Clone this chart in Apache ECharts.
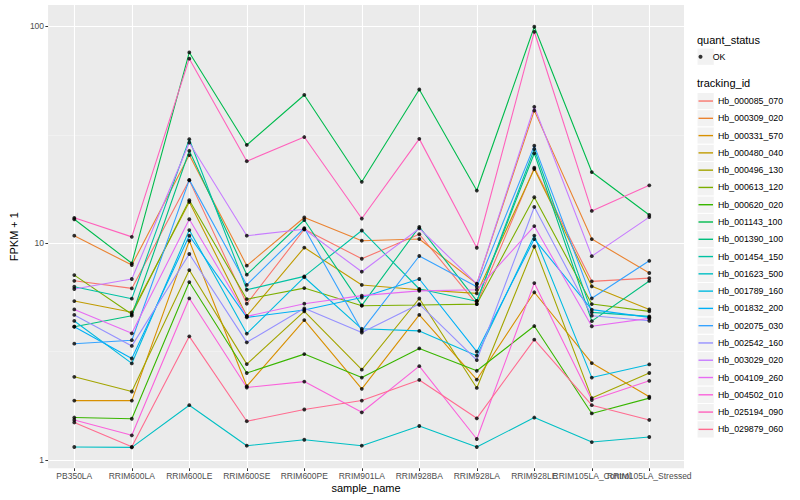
<!DOCTYPE html>
<html><head><meta charset="utf-8">
<script src="https://cdn.jsdelivr.net/npm/echarts@6/dist/echarts.min.js"></script>
<style>html,body{margin:0;padding:0;background:#fff}#c{width:800px;height:500px}</style>
</head><body><div id="c"></div>
<script>
const categories = ['PB350LA','RRIM600LA','RRIM600LE','RRIM600SE','RRIM600PE','RRIM901LA','RRIM928BA','RRIM928LA','RRIM928LE','RRIM105LA_Control','RRIM105LA_Stressed'];
const trackingIds = ['Hb_000085_070','Hb_000309_020','Hb_000331_570','Hb_000480_040','Hb_000496_130','Hb_000613_120','Hb_000620_020','Hb_001143_100','Hb_001390_100','Hb_001454_150','Hb_001623_500','Hb_001789_160','Hb_001832_200','Hb_002075_030','Hb_002542_160','Hb_003029_020','Hb_004109_260','Hb_004502_010','Hb_025194_090','Hb_029879_060'];
const colors = ['#F8766D','#EA8331','#D89000','#C09B00','#A3A500','#7CAE00','#39B600','#00BB4E','#00BF7D','#00C1A3','#00BFC4','#00BAE0','#00B0F6','#35A2FF','#9590FF','#C77CFF','#E76BF3','#FA62DB','#FF62BC','#FF6C90'];
const quantStatus = ['OK'];
const yTickValues = [1, 10, 100];

const Hb_000085_070 = [6.71, 6.19, 19.5, 5.26, 11.6, 8.48, 11.0, 5.24, 22.3, 6.67, 6.9];
const Hb_000309_020 = [10.83, 7.93, 25.5, 7.88, 13.15, 10.27, 10.46, 6.5, 40.9, 10.45, 7.29];
const Hb_000331_570 = [1.88, 1.88, 10.27, 2.19, 4.42, 2.13, 4.67, 2.35, 5.94, 2.80, 1.96];
const Hb_000480_040 = [5.41, 4.80, 15.5, 4.62, 9.55, 6.42, 6.1, 5.87, 22.0, 6.33, 4.95];
const Hb_000496_130 = [2.42, 2.07, 7.52, 2.77, 4.85, 2.61, 5.56, 2.15, 9.66, 1.93, 2.52];
const Hb_000613_120 = [7.13, 4.70, 15.8, 5.52, 6.21, 5.15, 5.19, 5.24, 16.3, 5.24, 4.85];
const Hb_000620_020 = [1.57, 1.55, 6.62, 2.52, 3.08, 2.40, 3.27, 2.58, 4.15, 1.64, 1.93];
const Hb_001143_100 = [12.9, 8.08, 75.9, 28.4, 48.3, 19.2, 51.2, 17.5, 99.7, 21.3, 13.5];
const Hb_001390_100 = [4.12, 4.63, 26.7, 7.16, 12.8, 5.17, 11.9, 5.42, 26.0, 4.37, 6.7];
const Hb_001454_150 = [6.30, 5.55, 30.2, 6.10, 7.03, 11.45, 6.15, 5.4, 27.2, 4.8, 4.6];
const Hb_001623_500 = [1.148, 1.144, 1.79, 1.164, 1.24, 1.164, 1.435, 1.148, 1.57, 1.21, 1.277];
const Hb_001789_160 = [4.38, 2.79, 11.5, 3.83, 6.97, 4.03, 3.94, 3.03, 10.85, 2.40, 2.76];
const Hb_001832_200 = [4.12, 2.94, 10.83, 4.55, 4.92, 5.62, 6.84, 3.16, 10.45, 4.94, 4.55];
const Hb_002075_030 = [3.44, 3.57, 19.6, 6.42, 11.75, 3.95, 8.73, 6.3, 28.2, 5.57, 8.30];
const Hb_002542_160 = [4.67, 3.36, 8.92, 3.49, 5.01, 3.87, 5.24, 2.89, 14.7, 4.63, 4.39];
const Hb_003029_020 = [6.15, 6.84, 29.1, 10.83, 11.6, 7.39, 11.7, 6.5, 42.6, 8.72, 13.2];
const Hb_004109_260 = [4.95, 3.84, 12.9, 4.60, 5.26, 5.73, 6.03, 6.1, 12.0, 4.14, 4.5];
const Hb_004502_010 = [1.53, 1.30, 5.57, 2.16, 2.30, 1.66, 2.71, 1.25, 6.55, 1.89, 2.32];
const Hb_025194_090 = [13.1, 10.7, 71.0, 23.9, 30.9, 13.0, 30.3, 9.53, 94.5, 14.1, 18.5];
const Hb_029879_060 = [1.49, 1.15, 3.72, 1.51, 1.71, 1.88, 2.34, 1.557, 3.59, 1.79, 1.53];

const seriesValues = [Hb_000085_070, Hb_000309_020, Hb_000331_570, Hb_000480_040, Hb_000496_130, Hb_000613_120, Hb_000620_020, Hb_001143_100, Hb_001390_100, Hb_001454_150, Hb_001623_500, Hb_001789_160, Hb_001832_200, Hb_002075_030, Hb_002542_160, Hb_003029_020, Hb_004109_260, Hb_004502_010, Hb_025194_090, Hb_029879_060];

const FONT = "'Liberation Sans', Arial, Helvetica, sans-serif";
const yMin = 0.9157, yMax = 125.6;
const panel = {left: 40, right: 684, top: 5, bottom: 468.3};
const catFirst = 74.3, catLast = 649.3;
const rowH = 17.28, keyX = 697, trackTop = 92.4, okCenter = 56.7;

const lineSeries = trackingIds.map((name, i) => ({
  name: name, type: 'line', xAxisIndex: 1, yAxisIndex: 2,
  data: seriesValues[i], symbol: 'none', color: colors[i],
  lineStyle: {color: colors[i], width: 1.1}, itemStyle: {color: colors[i]},
  silent: true, animation: false, z: 2
}));
const okPoints = [];
seriesValues.forEach(arr => arr.forEach((v, j) => okPoints.push([j, v])));

const graphics = [];
graphics.push({type: 'text', left: keyX, top: 34, style: {text: 'quant_status', font: '11px ' + FONT, fill: '#000'}});
graphics.push({type: 'text', left: keyX, top: 77.5, style: {text: 'tracking_id', font: '11px ' + FONT, fill: '#000'}});
graphics.push({type: 'rect', shape: {x: keyX, y: okCenter - rowH / 2, width: rowH, height: rowH}, style: {fill: '#F2F2F2', stroke: '#fff', lineWidth: 1}, z: -1});
trackingIds.forEach((n, i) => {
  graphics.push({type: 'rect', shape: {x: keyX, y: trackTop + i * rowH, width: rowH, height: rowH}, style: {fill: '#F2F2F2', stroke: '#fff', lineWidth: 1}, z: -1});
});

const option = {
  backgroundColor: '#fff',
  animation: false,
  textStyle: {fontFamily: FONT},
  grid: [
    {left: panel.left, right: 800 - panel.right, top: panel.top, bottom: 500 - panel.bottom, show: true, backgroundColor: '#EBEBEB', borderWidth: 0, containLabel: false},
    {left: catFirst, right: 800 - catLast, top: panel.top, bottom: 500 - panel.bottom, show: false, containLabel: false}
  ],
  xAxis: [
    {gridIndex: 0, type: 'value', min: 0, max: 1, axisLine: {show: false}, axisTick: {show: false}, axisLabel: {show: false}, splitLine: {show: false},
     name: 'sample_name', nameLocation: 'middle', nameGap: 14, nameTextStyle: {fontSize: 11, color: '#000', fontFamily: FONT}},
    {gridIndex: 1, type: 'category', data: categories, boundaryGap: false,
     axisLine: {show: false}, axisTick: {show: true, interval: 0, length: 2.7, lineStyle: {color: '#333', width: 1}},
     axisLabel: {interval: 0, fontSize: 8.5, color: '#4D4D4D', margin: 3.5, fontFamily: FONT, hideOverlap: false},
     splitLine: {show: true, interval: 0, lineStyle: {color: '#fff', width: 1.1}}}
  ],
  yAxis: [
    {gridIndex: 0, type: 'log', logBase: 10, min: yMin, max: yMax,
     axisLine: {show: false}, axisTick: {show: true, length: 2.7, customValues: yTickValues, lineStyle: {color: '#333', width: 1}},
     axisLabel: {customValues: yTickValues, fontSize: 8.5, color: '#4D4D4D', margin: 4, fontFamily: FONT},
     splitLine: {show: true, lineStyle: {color: '#fff', width: 1.1}},
     name: 'FPKM + 1', nameLocation: 'middle', nameGap: 23, nameTextStyle: {fontSize: 11, color: '#000', fontFamily: FONT}},
    {gridIndex: 0, type: 'log', logBase: 10, min: yMin, max: yMax, position: 'left',
     axisLine: {show: false}, axisTick: {show: false, customValues: [Math.sqrt(10), 10 * Math.sqrt(10)]},
     axisLabel: {show: false, customValues: [Math.sqrt(10), 10 * Math.sqrt(10)]},
     splitLine: {show: true, lineStyle: {color: '#F5F5F5', width: 0.6}}},
    {gridIndex: 1, type: 'log', logBase: 10, min: yMin, max: yMax, show: false, splitLine: {show: false}}
  ],
  legend: [
    {data: trackingIds.map(n => ({name: n, icon: 'rect'})), orient: 'vertical', left: keyX + 1.5, top: trackTop, padding: 0, itemGap: 0,
     itemWidth: 14.5, itemHeight: 1.4, selectedMode: false,
     textStyle: {fontSize: 8.8, color: '#000', fontFamily: FONT, lineHeight: rowH}},
    {data: [{name: quantStatus[0], icon: 'circle'}], orient: 'vertical', left: keyX + 1.5, top: okCenter - rowH / 2, padding: 0,
     itemWidth: 14.5, itemHeight: 4, selectedMode: false,
     textStyle: {fontSize: 8.8, color: '#000', fontFamily: FONT, lineHeight: rowH}}
  ],
  graphic: graphics,
  series: lineSeries.concat([{
    name: quantStatus[0], type: 'scatter', xAxisIndex: 1, yAxisIndex: 2, data: okPoints,
    symbol: 'circle', symbolSize: 3.8, itemStyle: {color: '#000'}, color: '#000', silent: true, animation: false, z: 5
  }])
};
const chart = echarts.init(document.getElementById('c'), null, {renderer: 'svg', width: 800, height: 500});
chart.setOption(option);
</script></body></html>
